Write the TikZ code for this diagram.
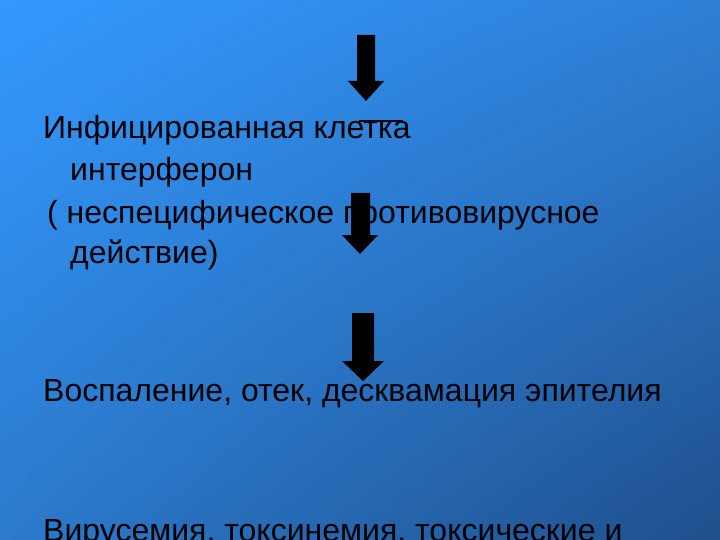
\documentclass[tikz,border=0pt]{standalone}
\usepackage{fontspec}
\setmainfont{Liberation Sans}
\usetikzlibrary{shadings}
\definecolor{bgUL}{RGB}{51,153,255}
\definecolor{bgUR}{RGB}{46,128,214}
\definecolor{bgLL}{RGB}{43,122,204}
\definecolor{bgLR}{RGB}{31,79,140}
\tikzset{
  slidetext/.style={anchor=base west, inner sep=0pt, font=\fontsize{32}{38}\selectfont, text=black},
  blockarrow/.style={fill=black, draw=none}
}
\begin{document}
\begin{tikzpicture}[x=1pt,y=-1pt]
\useasboundingbox (0,0) rectangle (720,540);
\clip (0,0) rectangle (720,540);
\shade[upper left=bgUL, upper right=bgUR, lower left=bgLL, lower right=bgLR] (0,0) rectangle (720,540);
% block arrows
\fill[blockarrow] (357,35) -- (375,35) -- (375,81) -- (384,81) -- (366,101) -- (348,81) -- (357,81) -- cycle;
\fill[blockarrow] (351,193) -- (370,193) -- (370,235) -- (378,235) -- (360,254) -- (342,235) -- (351,235) -- cycle;
\fill[blockarrow] (352,313) -- (374,313) -- (374,361) -- (384,361) -- (363,381) -- (342,361) -- (352,361) -- cycle;
% texts
\node[slidetext] (t1) at (43,139) {Инфицированная клетка};
\draw[line width=1.2pt] (359,121) -- (403,121);
\node[slidetext] (t2) at (70,181) {интерферон};
\node[slidetext] (t3) at (47,223) {( неспецифическое противовирусное};
\node[slidetext] (t4) at (70,263) {действие)};
\node[slidetext] (t5) at (43,401) {Воспаление, отек, десквамация эпителия};
\node[slidetext] (t6) at (43,541) {Вирусемия, токсинемия, токсические и};
\end{tikzpicture}
\end{document}
